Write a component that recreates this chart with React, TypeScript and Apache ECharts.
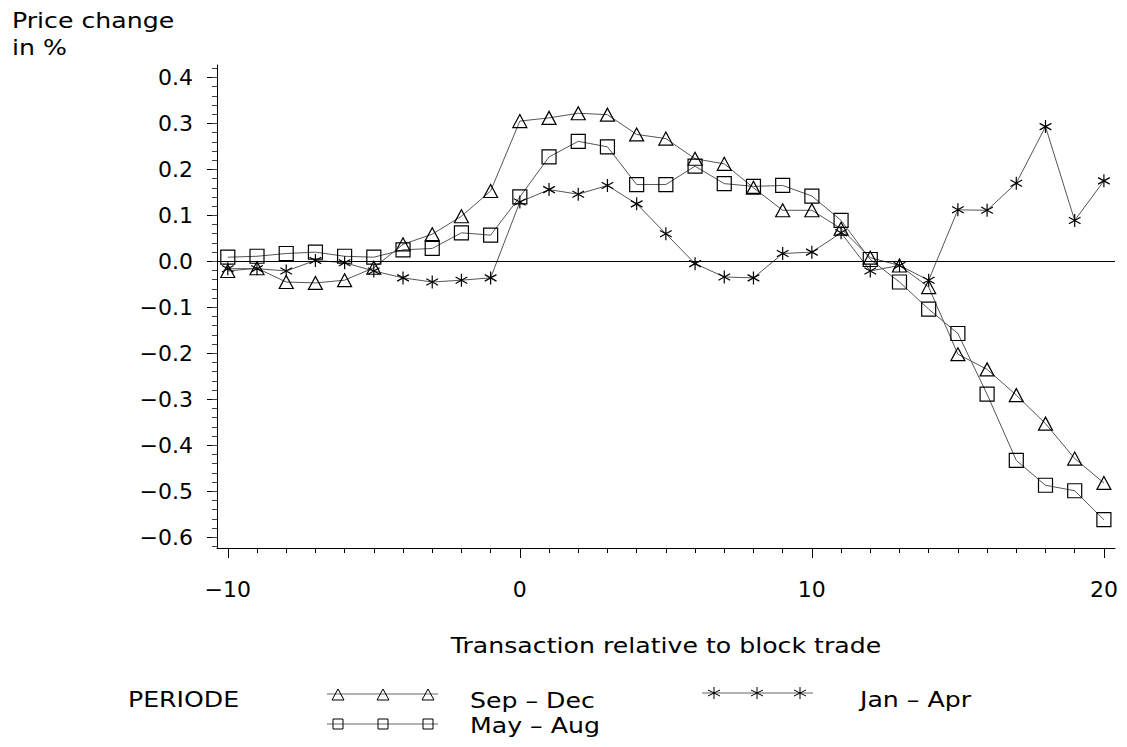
import React, { useEffect, useRef } from "react";
import * as echarts from "echarts";

// ---- data ----
const transactions = [-10, -9, -8, -7, -6, -5, -4, -3, -2, -1, 0, 1, 2, 3, 4, 5, 6, 7, 8, 9, 10, 11, 12, 13, 14, 15, 16, 17, 18, 19, 20];

const sepDec = [
  -0.021, -0.015, -0.045, -0.047, -0.041, -0.014, 0.037, 0.059, 0.098, 0.153, 0.305,
  0.312, 0.322, 0.319, 0.276, 0.267, 0.223, 0.212, 0.160, 0.111, 0.111,
  0.071, 0.008, -0.009, -0.056, -0.202, -0.235, -0.291, -0.353, -0.429, -0.482,
];

const mayAug = [
  0.009, 0.011, 0.017, 0.020, 0.011, 0.009, 0.025, 0.028, 0.062, 0.057, 0.140,
  0.227, 0.261, 0.249, 0.167, 0.167, 0.207, 0.169, 0.163, 0.165, 0.142,
  0.089, 0.004, -0.045, -0.104, -0.157, -0.289, -0.433, -0.487, -0.499, -0.562,
];

const janApr = [
  -0.016, -0.016, -0.021, 0.002, -0.003, -0.021, -0.036, -0.045, -0.041, -0.036, 0.129,
  0.156, 0.146, 0.165, 0.125, 0.060, -0.005, -0.034, -0.036, 0.017, 0.020,
  0.062, -0.021, -0.009, -0.041, 0.112, 0.111, 0.170, 0.293, 0.089, 0.175,
];

const xMajorTicks = [-10, 0, 10, 20];
const yMajorTicks = [-0.6, -0.5, -0.4, -0.3, -0.2, -0.1, 0, 0.1, 0.2, 0.3, 0.4];

const seriesNames = ["Sep \u2013 Dec", "May \u2013 Aug", "Jan \u2013 Apr"];
const legendTitle = "PERIODE";
const xTitle = "Transaction relative to block trade";
const yTitle = ["Price change", "in %"];

// ---- style constants ----
const FONT = "DejaVu Sans";
const TXT_SCALE = 1.2;
const STAR_PATH = "path://M0,-10L0,10M-9,-5L9,5M-9,5L9,-5";

const xMinorTicks: number[] = [];
for (let v = -10; v <= 20; v++) xMinorTicks.push(v);
const yMinorTicks: number[] = [];
for (let i = -31; i <= 21; i++) yMinorTicks.push(Math.round(i * 2) / 100);

const toPairs = (vals: number[]) => transactions.map((t, i) => [t, vals[i]]);
const minus = (s: string) => s.replace("-", "\u2212");

function textEl(text: string, x: number, y: number, align: string = "left") {
  return {
    type: "text",
    x,
    y,
    scaleX: TXT_SCALE,
    silent: true,
    style: {
      text,
      fill: "#000",
      fontSize: 21,
      fontFamily: FONT,
      align,
      verticalAlign: "middle",
    },
  };
}

function legendLine(x1: number, x2: number, y: number) {
  return {
    type: "line",
    silent: true,
    shape: { x1, y1: y, x2, y2: y },
    style: { stroke: "#666", lineWidth: 1 },
  };
}

function triangleEl(cx: number, cy: number) {
  return {
    type: "polygon",
    silent: true,
    shape: { points: [[cx, cy - 6], [cx - 6, cy + 5], [cx + 6, cy + 5]] },
    style: { fill: "none", stroke: "#000", lineWidth: 1 },
  };
}

function squareEl(cx: number, cy: number) {
  return {
    type: "rect",
    silent: true,
    shape: { x: cx - 5, y: cy - 5, width: 10, height: 10 },
    style: { fill: "none", stroke: "#000", lineWidth: 1 },
  };
}

function starEl(cx: number, cy: number) {
  const s = { stroke: "#000", lineWidth: 1 };
  return {
    type: "group",
    silent: true,
    children: [
      { type: "line", shape: { x1: cx, y1: cy - 6, x2: cx, y2: cy + 6 }, style: s },
      { type: "line", shape: { x1: cx - 6, y1: cy - 3, x2: cx + 6, y2: cy + 3 }, style: s },
      { type: "line", shape: { x1: cx - 6, y1: cy + 3, x2: cx + 6, y2: cy - 3 }, style: s },
    ],
  };
}

const lineSeries = (name: string, vals: number[], symbol: string, symbolSize: any, extra: any = {}) => ({
  name,
  type: "line",
  xAxisIndex: 0,
  yAxisIndex: 0,
  data: toPairs(vals),
  symbol,
  symbolSize,
  symbolKeepAspect: true,
  showSymbol: true,
  showAllSymbol: true,
  lineStyle: { color: "#555", width: 1 },
  itemStyle: { color: "rgba(0,0,0,0)", borderColor: "#000", borderWidth: 1.2 },
  emphasis: { disabled: true },
  ...extra,
});

export default function App() {
  const ref = useRef<HTMLDivElement>(null);

  useEffect(() => {
    if (!ref.current) return;
    const chart = echarts.init(ref.current, null, { renderer: "svg" });

    const axisLineStyle = { color: "#000", width: 1 };

    const option: any = {
      animation: false,
      backgroundColor: "#fff",
      textStyle: { fontFamily: FONT },
      grid: { left: 217, top: 65, width: 898, height: 483, containLabel: false },
      xAxis: [
        {
          type: "value",
          min: -10.37,
          max: 20.38,
          position: "bottom",
          axisLine: { show: true, onZero: false, lineStyle: axisLineStyle },
          axisTick: { show: true, customValues: xMajorTicks, length: 10, lineStyle: axisLineStyle },
          axisLabel: {
            customValues: xMajorTicks,
            formatter: (v: number) => minus(String(Math.round(v))),
            color: "#000",
            fontSize: 22,
            fontFamily: FONT,
            margin: 30,
          },
          splitLine: { show: false },
        },
        {
          type: "value",
          min: -10.37,
          max: 20.38,
          position: "bottom",
          axisLine: { show: false, onZero: false },
          axisTick: { show: true, customValues: xMinorTicks, length: 5, lineStyle: axisLineStyle },
          axisLabel: { show: false },
          splitLine: { show: false },
        },
      ],
      yAxis: [
        {
          type: "value",
          min: -0.6235,
          max: 0.427,
          position: "left",
          axisLine: { show: true, onZero: false, lineStyle: axisLineStyle },
          axisTick: { show: true, customValues: yMajorTicks, length: 10, lineStyle: axisLineStyle },
          axisLabel: {
            customValues: yMajorTicks,
            formatter: (v: number) => minus(v.toFixed(1)),
            color: "#000",
            fontSize: 22,
            fontFamily: FONT,
            margin: 24,
          },
          splitLine: { show: false },
        },
        {
          type: "value",
          min: -0.6235,
          max: 0.427,
          position: "left",
          axisLine: { show: false, onZero: false },
          axisTick: { show: true, customValues: yMinorTicks, length: 5, lineStyle: { color: "#444", width: 1 } },
          axisLabel: { show: false },
          splitLine: { show: false },
        },
      ],
      series: [
        lineSeries(seriesNames[0], sepDec, "triangle", [14, 13], {
          markLine: {
            silent: true,
            symbol: ["none", "none"],
            label: { show: false },
            lineStyle: { color: "#000", width: 1, type: "solid" },
            emphasis: { disabled: true },
            data: [{ yAxis: 0 }],
          },
        }),
        lineSeries(seriesNames[1], mayAug, "rect", [14, 14]),
        lineSeries(seriesNames[2], janApr, STAR_PATH, [13, 13]),
      ],
      graphic: [
        textEl(yTitle[0], 12, 20),
        textEl(yTitle[1], 12, 47),
        textEl(xTitle, 666, 645, "center"),
        textEl(legendTitle, 128, 699),
        legendLine(327, 438, 694),
        triangleEl(338, 695),
        triangleEl(383, 695),
        triangleEl(428, 695),
        textEl(seriesNames[0], 470, 700),
        legendLine(327, 438, 724),
        squareEl(338, 724),
        squareEl(383, 724),
        squareEl(428, 724),
        textEl(seriesNames[1], 470, 725),
        legendLine(702, 813, 693),
        starEl(714, 693),
        starEl(757, 693),
        starEl(800, 693),
        textEl(seriesNames[2], 860, 699),
      ],
    };

    chart.setOption(option);
    return () => chart.dispose();
  }, []);

  return (
    <div
      ref={ref}
      style={{ position: "fixed", left: 0, top: 0, width: 1127, height: 747, background: "#fff" }}
    />
  );
}
